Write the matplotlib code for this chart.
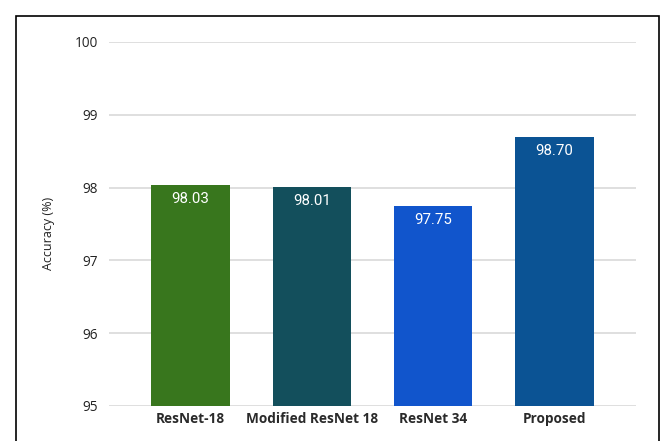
import matplotlib.pyplot as plt
from matplotlib.patches import Rectangle

models = ['ResNet-18', 'Modified ResNet 18', 'ResNet 34', 'Proposed']
accuracy = [98.03, 98.01, 97.75, 98.70]
colors = ['#38761d', '#134f5c', '#1155cc', '#0b5394']
yticks = [95, 96, 97, 98, 99, 100]

fig = plt.figure(figsize=(6.61, 4.41), dpi=100)
ax = fig.add_axes([0.165, 0.0794, 0.797, 0.8254])

x = range(len(models))
bars = ax.bar(x, [a - 95 for a in accuracy], bottom=95, width=0.645, color=colors, zorder=3)

for xi, a in zip(x, accuracy):
    ax.annotate(f'{a:.2f}', (xi, a), xytext=(0, -10), textcoords='offset points',
                ha='center', va='center', color='white', fontsize=10.8, family='Roboto')

ax.set_ylim(95, 100)
ax.set_xlim(-0.67, 3.67)
ax.set_yticks(yticks)
ax.set_yticklabels([str(t) for t in yticks], family='Open Sans', fontsize=9.8, color='#222222')
ax.set_xticks(list(x))
ax.set_xticklabels(models, family='Open Sans', fontweight='bold', fontsize=9.8, color='#2a2a2a')
ax.tick_params(axis='both', length=0)
ax.tick_params(axis='y', pad=8)
ax.tick_params(axis='x', pad=4)
ax.grid(axis='y', color='#d9d9d9', linewidth=1.2, zorder=0)
for s in ax.spines.values():
    s.set_visible(False)

ax.set_ylabel('Accuracy (%)', family='Open Sans', fontsize=9, color='#222222')
ax.yaxis.set_label_coords(-0.103, 0.475)

# outer frame, bottom edge runs past the canvas
frame = Rectangle((0.0242, -0.1), 0.973, 1.064, transform=fig.transFigure,
                  fill=False, edgecolor='black', linewidth=1.2, clip_on=False)
fig.patches.append(frame)

fig.savefig('out.png', dpi=100)
